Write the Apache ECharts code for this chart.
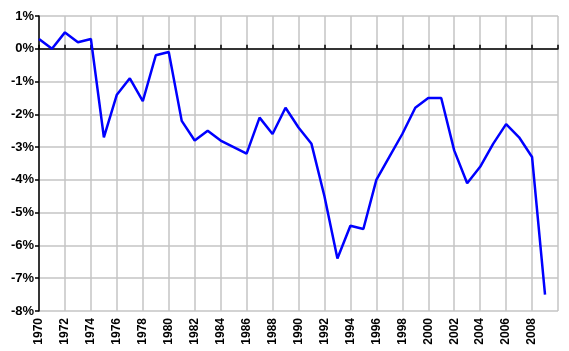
<!DOCTYPE html>
<html>
<head>
<meta charset="utf-8">
<script src="https://cdn.jsdelivr.net/npm/echarts@6/dist/echarts.min.js"></script>
<style>
  html, body { margin: 0; padding: 0; background: #fff; }
  #chart { width: 569px; height: 351px; }
</style>
</head>
<body>
<div id="chart"></div>
<script>
const years = [1970, 1971, 1972, 1973, 1974, 1975, 1976, 1977, 1978, 1979,
  1980, 1981, 1982, 1983, 1984, 1985, 1986, 1987, 1988, 1989,
  1990, 1991, 1992, 1993, 1994, 1995, 1996, 1997, 1998, 1999,
  2000, 2001, 2002, 2003, 2004, 2005, 2006, 2007, 2008, 2009]
const values = [0.3, 0.0, 0.5, 0.2, 0.3, -2.7, -1.4, -0.9, -1.6, -0.2,
  -0.1, -2.2, -2.8, -2.5, -2.8, -3.0, -3.2, -2.1, -2.6, -1.8,
  -2.4, -2.9, -4.5, -6.4, -5.4, -5.5, -4.0, -3.3, -2.6, -1.8,
  -1.5, -1.5, -3.1, -4.1, -3.6, -2.9, -2.3, -2.7, -3.3, -7.5]

const chart = echarts.init(document.getElementById('chart'))
const font = 'Liberation Sans, Arial, sans-serif'

const option = {
  animation: false,
  grid: { left: 39, right: 11, top: 16, bottom: 40 },
  xAxis: [{
    type: 'value',
    min: 1970,
    max: 2010,
    interval: 2,
    axisLine: { show: false, onZero: false },
    axisTick: { show: false },
    splitLine: { show: true, lineStyle: { color: '#c4c4c4', width: 1.5 } },
    axisLabel: {
      rotate: 90,
      margin: 7,
      color: '#000',
      fontFamily: font,
      fontSize: 12,
      fontWeight: 'bold',
      formatter: function (v) { return v === 2010 ? '' : String(v) }
    }
  }, {
    // zero line with tick marks
    type: 'value',
    min: 1970,
    max: 2010,
    interval: 2,
    axisLine: { show: true, onZero: true, lineStyle: { color: '#000', width: 1.5 } },
    axisTick: { show: true, length: 4, lineStyle: { color: '#000', width: 1.5 } },
    axisLabel: { show: false },
    splitLine: { show: false }
  }],
  yAxis: {
    type: 'value',
    min: -8,
    max: 1,
    interval: 1,
    axisLine: { show: true, lineStyle: { color: '#000', width: 1.5 } },
    axisTick: { show: true, length: 4, lineStyle: { color: '#000', width: 1.5 } },
    splitLine: { show: true, lineStyle: { color: '#c4c4c4', width: 1.5 } },
    axisLabel: {
      margin: 5,
      color: '#000',
      fontFamily: font,
      fontSize: 13,
      fontWeight: 'bold',
      formatter: function (v) { return v + '%' }
    }
  },
  series: [{
    type: 'line',
    xAxisIndex: 0,
    showSymbol: false,
    color: '#0000ff',
    lineStyle: { width: 2.5, color: '#0000ff' },
    data: years.map(function (y, i) { return [y, values[i]] })
  }]
}
chart.setOption(option)
</script>
</body>
</html>
